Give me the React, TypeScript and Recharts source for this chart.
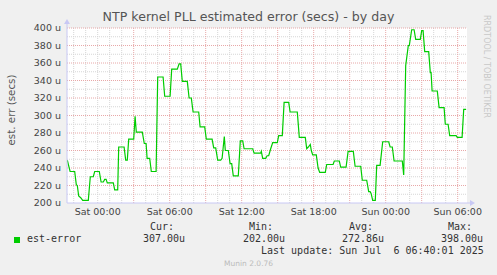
import React from 'react';
import { LineChart, Line, XAxis, YAxis, CartesianGrid, ReferenceLine } from 'recharts';

// minutes from Sat 00:00
const minutes = [
  -152, -138, -115, -107, -102, -95, -85, -75, -47, -37, -22, -15, 8, 17, 28, 35, 42, 48, 78, 85,
  100, 105, 132, 140, 148, 155, 180, 187, 193, 223, 233, 242, 247, 260, 268, 292, 300, 327, 335, 362,
  370, 398, 407, 415, 423, 448, 457, 468, 477, 505, 512, 535, 543, 572, 580, 590, 600, 615, 622, 633,
  638, 653, 662, 670, 678, 703, 713, 725, 732, 775, 782, 815, 818, 825, 840, 847, 855, 865, 875, 898,
  905, 923, 932, 955, 962, 998, 1008, 1038, 1045, 1053, 1063, 1068, 1075, 1093, 1102, 1110, 1138, 1145, 1177, 1183,
  1208, 1215, 1242, 1252, 1278, 1287, 1315, 1323, 1345, 1355, 1362, 1367, 1375, 1388, 1395, 1412, 1425, 1455, 1462, 1473,
  1482, 1523, 1530, 1540, 1553, 1558, 1570, 1582, 1590, 1613, 1620, 1627, 1635, 1655, 1663, 1667, 1672, 1698, 1707, 1732,
  1738, 1752, 1760, 1792, 1798, 1822, 1830, 1842,
];
// est-error, in micro-seconds
const estError = [
  249, 236, 236, 221, 220, 208, 206, 203, 203, 230, 230, 236, 236, 224, 224, 227, 227, 223, 223, 215,
  215, 264, 264, 249, 249, 273, 273, 299, 281, 281, 268, 268, 251, 251, 236, 236, 344, 344, 322, 322,
  353, 353, 359, 359, 339, 339, 320, 320, 304, 304, 287, 287, 273, 273, 263, 263, 249, 249, 251, 276,
  260, 260, 245, 245, 231, 231, 271, 271, 262, 262, 257, 257, 259, 251, 251, 254, 254, 262, 269, 269,
  277, 277, 315, 315, 304, 304, 275, 275, 262, 264, 267, 260, 255, 255, 240, 235, 235, 244, 244, 248,
  248, 241, 241, 259, 259, 242, 242, 226, 226, 213, 213, 211, 203, 203, 243, 243, 270, 270, 264, 264,
  248, 248, 232, 357, 380, 380, 398, 398, 387, 387, 397, 397, 373, 373, 349, 349, 328, 328, 309, 309,
  290, 290, 277, 277, 275, 275, 307, 307,
];

const xTicks = [0, 360, 720, 1080, 1440, 1800];
const xTickLabels = ['Sat 00:00', 'Sat 06:00', 'Sat 12:00', 'Sat 18:00', 'Sun 00:00', 'Sun 06:00'];
const yTicks = [200, 220, 240, 260, 280, 300, 320, 340, 360, 380, 400];
const yMinor = [210, 230, 250, 270, 290, 310, 330, 350, 370, 390];
const xMajor = [180, 360, 540, 720, 900, 1080, 1260, 1440, 1620, 1800];
const xMinor = [-120, -60, 0, 60, 120, 240, 300, 420, 480, 600, 660, 780, 840, 960, 1020, 1140, 1200, 1320, 1380, 1500, 1560, 1680, 1740];

const legendHeads = ['Cur:', 'Min:', 'Avg:', 'Max:'];
const legendValues = ['307.00u', '202.00u', '272.86u', '398.00u'];

const data = minutes.map((m, i) => ({ t: m, v: estError[i] }));

const FONT = "'DejaVu Sans', sans-serif";
const MONO = "'DejaVu Sans Mono', monospace";
const MAJOR = '#e8a8a8';
const MINOR = '#d6d6d6';
const AXIS = '#c8c8f4';

const headX = [150, 249, 349, 448];
const valX = [143, 243, 342, 441];

export default function App() {
  return (
    <div style={{ position: 'absolute', left: 0, top: 0, width: 497, height: 275, background: '#f0f0f0', fontFamily: FONT }}>
      <LineChart width={497} height={275} data={data} margin={{ top: 28, right: 30, bottom: 0, left: 0 }}>
        <CartesianGrid horizontal={false} vertical={false} fill="#ffffff" />
        {xMinor.map((x) => (
          <ReferenceLine key={'xm' + x} x={x} stroke={MINOR} strokeDasharray="1 1" />
        ))}
        {yMinor.map((y) => (
          <ReferenceLine key={'ym' + y} y={y} stroke={MINOR} strokeDasharray="1 1" />
        ))}
        {xMajor.map((x) => (
          <ReferenceLine key={'xM' + x} x={x} stroke={MAJOR} strokeDasharray="1 1" />
        ))}
        {yTicks.slice(1).map((y) => (
          <ReferenceLine key={'yM' + y} y={y} stroke={MAJOR} strokeDasharray="1 1" />
        ))}
        <XAxis
          dataKey="t"
          type="number"
          domain={[-153.5, 1846.5]}
          allowDataOverflow
          ticks={xTicks}
          tickFormatter={(v: number) => xTickLabels[xTicks.indexOf(v)]}
          height={72}
          tickLine={false}
          tickSize={0}
          tickMargin={5}
          axisLine={{ stroke: AXIS }}
          tick={{ fontSize: 9.5, fill: '#444', fontFamily: FONT }}
        />
        <YAxis
          type="number"
          domain={[200, 400]}
          ticks={yTicks}
          tickFormatter={(v: number) => `${v} u`}
          width={67}
          tickLine={false}
          tickSize={0}
          tickMargin={6}
          axisLine={{ stroke: AXIS }}
          tick={{ fontSize: 9.5, fill: '#444', fontFamily: FONT }}
        />
        <Line
          dataKey="v"
          type="linear"
          stroke="#00cc00"
          strokeWidth={1.2}
          dot={false}
          isAnimationActive={false}
        />
      </LineChart>

      <svg style={{ position: 'absolute', left: 0, top: 0 }} width={497} height={275}>
        <line x1={67} y1={22} x2={67} y2={28} stroke={AXIS} />
        <polygon points="64,24 70,24 67,19" fill={AXIS} />
        <line x1={467} y1={203} x2={472} y2={203} stroke={AXIS} />
        <polygon points="470,200 470,206 475,203" fill={AXIS} />
      </svg>

      <div style={{ position: 'absolute', left: 0, width: 497, top: 9, textAlign: 'center', fontSize: 12.6, color: '#555', paddingLeft: 0 }}>
        NTP kernel PLL estimated error (secs) - by day
      </div>
      <div
        style={{
          position: 'absolute', left: 11, top: 110, fontSize: 10.3, color: '#555', whiteSpace: 'nowrap',
          transform: 'translate(-50%, -50%) rotate(-90deg)',
        }}
      >
        est. err (secs)
      </div>
      <div
        style={{
          position: 'absolute', left: 482, top: 15, fontSize: 8, color: '#c8c8c8', whiteSpace: 'nowrap',
          writingMode: 'vertical-rl',
        }}
      >
        RRDTOOL / TOBI OETIKER
      </div>

      <div style={{ position: 'absolute', left: 14, top: 237, width: 6, height: 6, background: '#00cc00' }} />
      <div style={{ position: 'absolute', left: 27, top: 233, fontFamily: MONO, fontSize: 10, color: '#333', whiteSpace: 'pre' }}>
        est-error
      </div>
      {legendHeads.map((h, i) => (
        <div key={h} style={{ position: 'absolute', left: headX[i], top: 221, fontFamily: MONO, fontSize: 10, color: '#333', whiteSpace: 'pre' }}>
          {h}
        </div>
      ))}
      {legendValues.map((v, i) => (
        <div key={v} style={{ position: 'absolute', left: valX[i], top: 233, fontFamily: MONO, fontSize: 10, color: '#333', whiteSpace: 'pre' }}>
          {v}
        </div>
      ))}
      <div style={{ position: 'absolute', left: 261, top: 245, fontFamily: MONO, fontSize: 10, color: '#333', whiteSpace: 'pre' }}>
        {'Last update: Sun Jul  6 06:40:01 2025'}
      </div>
      <div style={{ position: 'absolute', left: 224, top: 259, fontSize: 7.5, color: '#bbbbbb', whiteSpace: 'pre' }}>
        Munin 2.0.76
      </div>
    </div>
  );
}
